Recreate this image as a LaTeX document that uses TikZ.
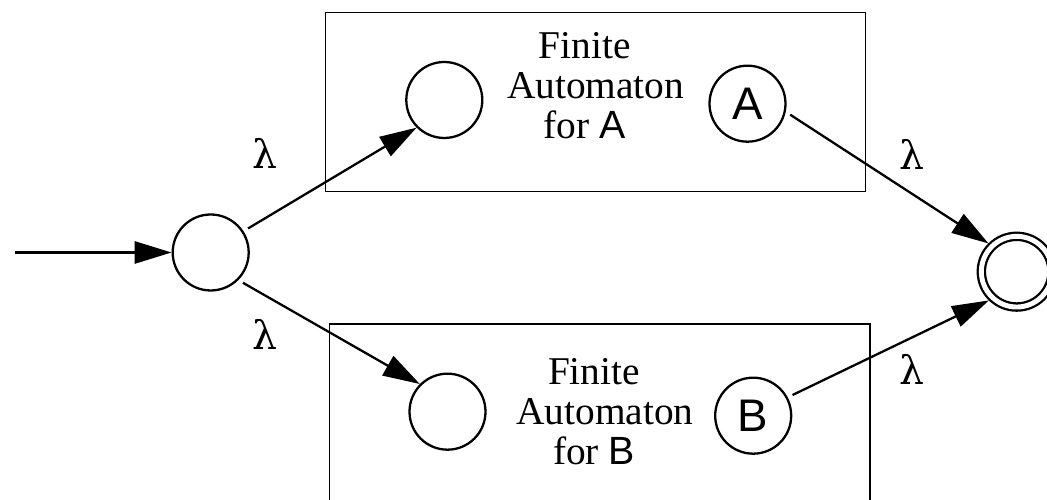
\documentclass[tikz,border=0pt]{standalone}
\usepackage{fontspec}
\setmainfont{Liberation Serif}
\setsansfont{Liberation Sans}
\newfontfamily\greekfont{DejaVu Serif}
\usetikzlibrary{arrows.meta}

\begin{document}
\begin{tikzpicture}[thin,
        every node/.append style={font=\fontsize{11.2}{11.4}\selectfont},
        state/.style={circle,draw,line width=0.65pt,minimum size=0.76cm,inner sep=0pt,
                      font=\fontsize{13}{13}\selectfont\sffamily},
        accepting/.style={double,double distance=1.4pt,minimum size=0.707cm,outer sep=1.3pt},
        trans/.style={->,line width=0.65pt,>={Triangle[length=10.5pt,width=6.3pt]},shorten <=1.5pt},
        lam/.style={font=\fontsize{11.2}{11.4}\selectfont\greekfont}]
        \useasboundingbox (0,0) rectangle (10.47,5);

        % Boxes
        \draw[line width=0.4pt] (3.254,4.873) rectangle (8.657,3.083);
        \draw[line width=0.4pt] (3.296,1.76) rectangle (8.70,-0.2);
        \draw (5.846,4.145) node(texta) [align=center,inner sep=0pt] {Finite\\\hspace*{0.22cm}Automaton\\for \textsf{A}};
        \draw (5.940,0.880) node(textb) [align=center,inner sep=0pt] {Finite\\\hspace*{0.22cm}Automaton\\for \textsf{B}};

        % Nodes
        \coordinate (entry) at (0.10,2.475);
        \draw (2.107,2.475)  node(start) [state] {};
        \draw (4.443,4.000)  node(qa)    [state] {};
        \draw (7.475,3.963)  node(qA)    [state] {A};
        \draw (4.475,0.883)  node(qb)    [state] {};
        \draw (7.532,0.843)  node(qB)    [state] {B};
        \draw (10.167,2.283) node(final) [state,accepting] {};

        % Edges
        \path[trans] (entry) edge (start);
        \path[trans] (start.33) edge (qa.225);
        \path[trans] (start.-45) edge (qb.135);
        \path[trans] (qA.-12) edge (final.135);
        \path[trans] (qB.28) edge (final.226);

        \draw (2.650,3.465) node[lam] {λ};
        \draw (2.650,1.660) node[lam] {λ};
        \draw (9.117,3.460) node[lam] {λ};
        \draw (9.117,1.310) node[lam] {λ};

\end{tikzpicture}
\end{document}
